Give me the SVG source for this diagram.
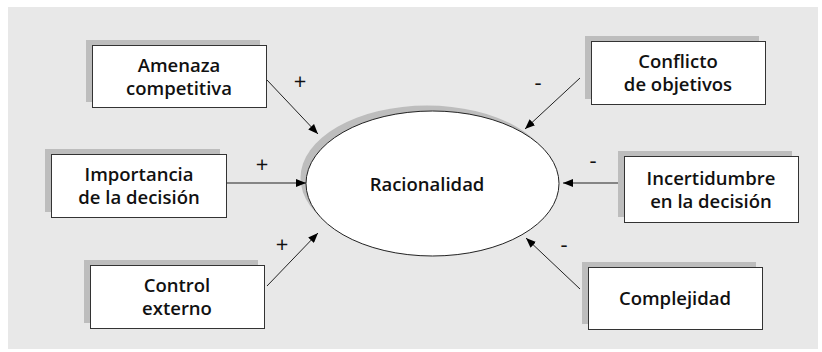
<svg xmlns="http://www.w3.org/2000/svg" width="822" height="352" viewBox="0 0 822 352">
<defs>
<marker id="ah" viewBox="0 0 10 8" refX="10" refY="4" markerWidth="10" markerHeight="8" markerUnits="userSpaceOnUse" orient="auto">
<path d="M0,0 L10,4 L0,8 z" fill="#000"/>
</marker>
</defs>
<style>
.sh{fill:#bdbdbd}
.bx{fill:#fff;stroke:#333;stroke-width:1}
.t{font-family:"Open Sans","DejaVu Sans",sans-serif;font-weight:600;font-size:18.5px;fill:#111;text-anchor:middle}
.s{font-family:"Open Sans","DejaVu Sans",sans-serif;font-size:22px;fill:#111;text-anchor:middle}
.c{stroke:#222;stroke-width:1;fill:none;marker-end:url(#ah)}
</style>
<rect x="8" y="7" width="810" height="342" fill="#e8e8e8"/>
<g id="racionalidad">
<ellipse cx="427" cy="178" rx="126.5" ry="72.5" class="sh"/>
<ellipse cx="432.5" cy="183.5" rx="126.5" ry="72.5" fill="#fff" stroke="#222" stroke-width="1"/>
<text x="427" y="191" class="t">Racionalidad</text>
</g>
<g id="amenaza">
<rect x="86" y="40" width="174" height="62" class="sh"/>
<rect x="92.5" y="45.5" width="174" height="62" class="bx"/>
<text x="179" y="72" class="t">Amenaza</text>
<text x="179" y="95" class="t">competitiva</text>
</g>
<g id="importancia">
<rect x="45" y="149" width="175" height="63" class="sh"/>
<rect x="51.5" y="154.5" width="175" height="63" class="bx"/>
<text x="139" y="181" class="t">Importancia</text>
<text x="139" y="204" class="t">de la decisión</text>
</g>
<g id="control">
<rect x="84" y="260" width="174" height="63" class="sh"/>
<rect x="90.5" y="265.5" width="174" height="63" class="bx"/>
<text x="177" y="292" class="t">Control</text>
<text x="177" y="315" class="t">externo</text>
</g>
<g id="conflicto">
<rect x="585" y="36" width="174" height="63" class="sh"/>
<rect x="591.5" y="41.5" width="174" height="63" class="bx"/>
<text x="678" y="68" class="t">Conflicto</text>
<text x="678" y="91" class="t">de objetivos</text>
</g>
<g id="incertidumbre">
<rect x="618" y="151" width="174" height="66" class="sh"/>
<rect x="624.5" y="156.5" width="174" height="66" class="bx"/>
<text x="711" y="185" class="t">Incertidumbre</text>
<text x="711" y="208" class="t">en la decisión</text>
</g>
<g id="complejidad">
<rect x="582" y="262" width="174" height="62" class="sh"/>
<rect x="588.5" y="267.5" width="174" height="62" class="bx"/>
<text x="675" y="305" class="t">Complejidad</text>
</g>
<g id="connectors">
<line x1="267" y1="80" x2="318" y2="134" class="c"/>
<line x1="227" y1="183" x2="306" y2="183" class="c"/>
<line x1="267" y1="286" x2="318" y2="233" class="c"/>
<line x1="580" y1="78" x2="525" y2="129" class="c"/>
<line x1="618" y1="183" x2="563" y2="183" class="c"/>
<line x1="580" y1="289" x2="526" y2="238" class="c"/>
</g>
<g id="labels">
<text x="300" y="89" class="s">+</text>
<text x="262" y="172" class="s">+</text>
<text x="282" y="252" class="s">+</text>
<text x="538" y="90" class="s">-</text>
<text x="593" y="168" class="s">-</text>
<text x="564" y="252" class="s">-</text>
</g>
</svg>
